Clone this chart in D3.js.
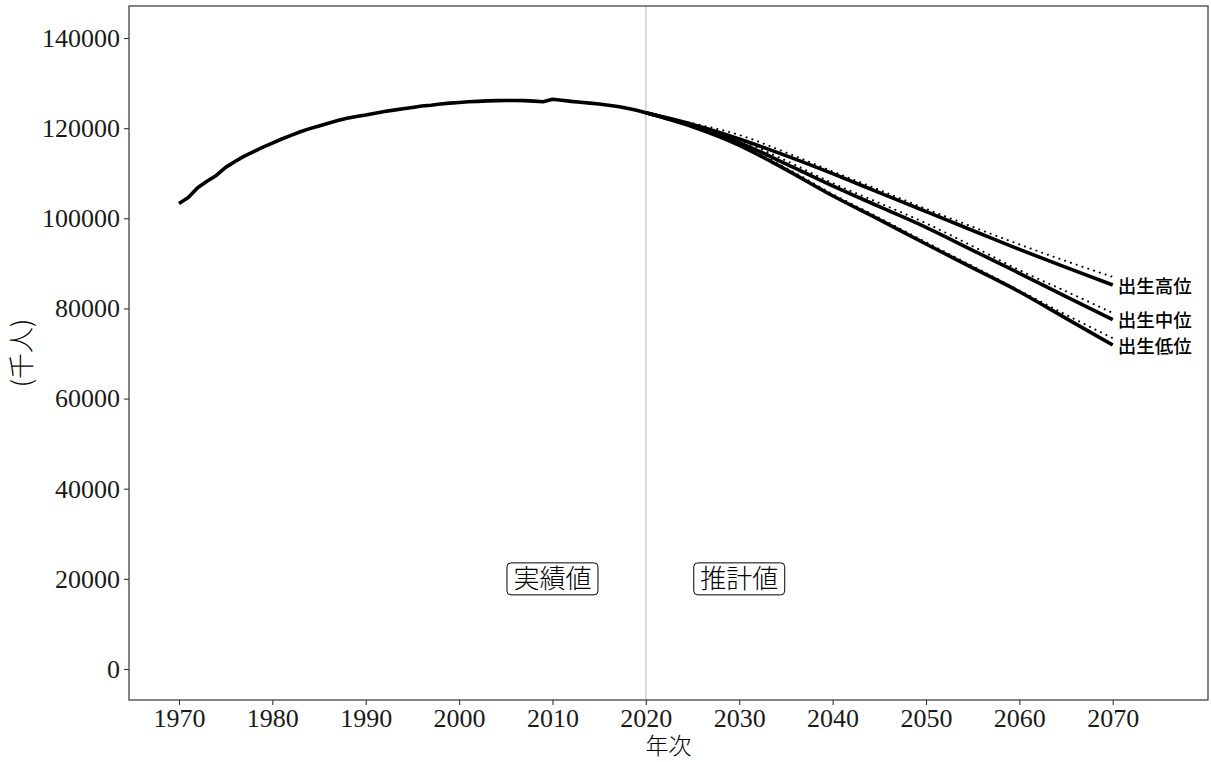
<!DOCTYPE html>
<html><head><meta charset="utf-8">
<script src="https://cdn.jsdelivr.net/npm/d3@7"></script>
<style>
html,body{margin:0;padding:0;background:#fff;}
svg{display:block;}
</style></head>
<body>
<svg id="chart" width="1211" height="762"></svg>
<script>
// ---- data (thousands of persons) ----
const actualYears = [1970,1971,1972,1973,1974,1975,1976,1977,1978,1979,1980,1981,1982,1983,1984,1985,1986,1987,1988,1989,1990,1991,1992,1993,1994,1995,1996,1997,1998,1999,2000,2001,2002,2003,2004,2005,2006,2007,2008,2009,2010,2011,2012,2013,2014,2015,2016,2017,2018,2019,2020];
const actualValues = [103300,104600,106800,108200,109500,111300,112600,113800,114800,115800,116700,117600,118400,119200,119900,120500,121100,121700,122200,122600,122900,123300,123700,124000,124300,124600,124900,125100,125350,125550,125700,125850,125950,126050,126100,126150,126150,126100,126000,125850,126400,126200,125950,125750,125550,125350,125100,124800,124400,123950,123400];

const projYears = [2020,2025,2030,2035,2040,2045,2050,2055,2060,2065,2070];
const highSolid = [123400,120800,117600,113900,109900,105700,101500,97300,93100,89100,85200];
const midSolid  = [123400,120500,116800,112100,107200,102600,98000,92900,87800,82600,77500];
const lowSolid  = [123400,120300,116200,110800,105000,99700,94300,89000,83700,77800,71900];
const highDotted = [123400,121100,118500,114600,110400,106300,102100,98100,94200,90500,87000];
const midDotted  = [123400,120800,117400,112800,107800,103400,98900,93800,88500,83800,79000];
const lowDotted  = [123400,120500,116500,111200,105400,100100,94700,89400,84000,78600,73400];

const seriesLabels = ["出生高位","出生中位","出生低位"];
const xTicks = [1970,1980,1990,2000,2010,2020,2030,2040,2050,2060,2070];
const yTicks = [0,20000,40000,60000,80000,100000,120000,140000];
const annotations = [{x:2010,y:20000,text:"実績値"},{x:2030,y:20000,text:"推計値"}];
const splitYear = 2020;

// ---- layout ----
const svg = d3.select("#chart");
const L = 129, R = 1208, T = 6, B = 700;
const x = d3.scaleLinear().domain([1964.65, 2080.2]).range([L, R]);
const y = d3.scaleLinear().domain([-6878, 147104]).range([B, T]);

const numFont = "'Liberation Serif','DejaVu Serif',serif";
const cjkFont = "'Noto Sans CJK JP','Noto Sans CJK SC',sans-serif";

// 2020 divider
svg.append("line")
  .attr("x1", x(splitYear)).attr("x2", x(splitYear))
  .attr("y1", T).attr("y2", B)
  .attr("stroke", "#bdbdbd").attr("stroke-width", 1.1);

// axes
const xAxis = svg.append("g").attr("transform", `translate(0,${B})`)
  .call(d3.axisBottom(x).tickValues(xTicks).tickFormat(d3.format("d")).tickSize(5).tickPadding(4));
const yAxis = svg.append("g").attr("transform", `translate(${L},0)`)
  .call(d3.axisLeft(y).tickValues(yTicks).tickFormat(d3.format("d")).tickSize(5).tickPadding(4));
[xAxis, yAxis].forEach(g => {
  g.select(".domain").remove();
  g.selectAll(".tick line").attr("stroke", "#333").attr("stroke-width", 1.1);
  g.selectAll(".tick text").attr("fill", "#1a1a1a").style("font-family", numFont).style("font-size", "26px");
});

// lines
const line = d3.line().x(d => x(d[0])).y(d => y(d[1])).curve(d3.curveMonotoneX);
const zip = (xs, vs) => xs.map((v, i) => [v, vs[i]]);

[highDotted, midDotted, lowDotted].forEach(s => {
  svg.append("path").datum(zip(projYears, s)).attr("d", line)
    .attr("fill", "none").attr("stroke", "#000").attr("stroke-width", 2)
    .attr("stroke-dasharray", "0.1,6").attr("stroke-linecap", "round");
});
[highSolid, midSolid, lowSolid].forEach(s => {
  svg.append("path").datum(zip(projYears, s)).attr("d", line)
    .attr("fill", "none").attr("stroke", "#000").attr("stroke-width", 3.6);
});
svg.append("path").datum(zip(actualYears, actualValues))
  .attr("d", d3.line().x(d => x(d[0])).y(d => y(d[1])))
  .attr("fill", "none").attr("stroke", "#000").attr("stroke-width", 3.6)
  .attr("stroke-linejoin", "round");

// end labels
[highSolid, midSolid, lowSolid].forEach((s, i) => {
  svg.append("text")
    .attr("x", x(2070) + 5).attr("y", y(s[s.length - 1]) + 1)
    .attr("dy", "0.36em")
    .style("font-family", cjkFont).style("font-size", "18.5px").style("font-weight", 500)
    .attr("fill", "#000").text(seriesLabels[i]);
});

// annotation labels
annotations.forEach(a => {
  const g = svg.append("g");
  g.append("rect")
    .attr("x", x(a.x) - 45.5).attr("y", y(a.y) - 16)
    .attr("width", 91).attr("height", 32)
    .attr("rx", 4).attr("ry", 4)
    .attr("fill", "#fff").attr("stroke", "#000").attr("stroke-width", 1);
  g.append("text")
    .attr("x", x(a.x)).attr("y", y(a.y)).attr("dy", "0.36em")
    .attr("text-anchor", "middle")
    .style("font-family", cjkFont).style("font-size", "26px").style("font-weight", 300)
    .attr("fill", "#000").text(a.text);
});

// panel border
svg.append("rect").attr("x", L).attr("y", T).attr("width", R - L).attr("height", B - T)
  .attr("fill", "none").attr("stroke", "#333").attr("stroke-width", 1.2);

// axis titles
svg.append("text")
  .attr("x", (L + R) / 2).attr("y", 754)
  .attr("text-anchor", "middle")
  .style("font-family", cjkFont).style("font-size", "23px").style("font-weight", 300)
  .attr("fill", "#000").text("年次");
svg.append("text")
  .attr("transform", `translate(22,${(T + B) / 2}) rotate(-90)`)
  .attr("dy", "0.36em").attr("text-anchor", "middle")
  .style("font-family", cjkFont).style("font-size", "26px").style("font-weight", 300)
  .attr("fill", "#000").text("(千人)");
</script>
</body></html>
